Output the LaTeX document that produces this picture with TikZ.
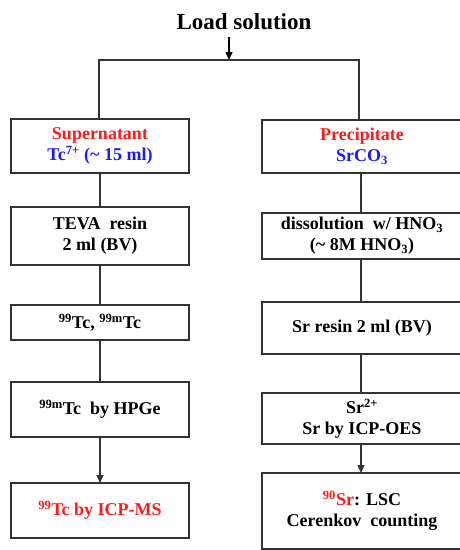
\documentclass[tikz,border=0pt]{standalone}
\usepackage{fontspec}
\setmainfont{Liberation Serif}
\usetikzlibrary{arrows.meta, positioning}
\definecolor{hot}{HTML}{FF1A1A}
\definecolor{ion}{HTML}{1A1AFF}
\definecolor{edge}{HTML}{333333}

\begin{document}
\begin{tikzpicture}[x=1pt, y=-1pt, font=\fontsize{18}{21}\selectfont\bfseries,
    >={Triangle[length=8pt, width=7pt]},
    box/.style={draw=edge, line width=1.4pt, align=center, inner sep=0pt, outer sep=0pt},
    lb/.style={box, minimum width=178pt},
    rb/.style={box, minimum width=200pt},
    link/.style={edge, line width=1.4pt}]
  \useasboundingbox (0,0) rectangle (459,550);

  \node (title) at (244,22) {\fontsize{23}{26}\selectfont Load solution};
  \coordinate (ld) at (229,37);
  \coordinate (split) at (229,60);

  % supernatant branch
  \node[lb, minimum height=54pt] (s1) at (100,146)
    {\color{hot}Supernatant\\\color{ion}Tc\textsuperscript{7+} (\textasciitilde\ 15 ml)};
  \node[lb, minimum height=58pt, below=34pt of s1] (s2) {TEVA\ \ resin\\2 ml (BV)};
  \node[lb, minimum height=35pt, below=40pt of s2] (s3) {\textsuperscript{99}Tc, \textsuperscript{99m}Tc};
  \node[lb, minimum height=55pt, below=42pt of s3] (s4) {\textsuperscript{99m}Tc\ \ by HPGe};
  \node[lb, minimum height=55pt, below=46pt of s4, text=hot] (s5) {\textsuperscript{99}Tc by ICP-MS};

  % precipitate branch
  \node[rb, minimum height=53pt] (p1) at (362,146.5)
    {\color{hot}Precipitate\\\color{ion}SrCO\textsubscript{3}};
  \node[rb, minimum height=46pt, below=40pt of p1] (p2)
    {dissolution\ \ w/ HNO\textsubscript{3}\\(\textasciitilde\ 8M HNO\textsubscript{3})};
  \node[rb, minimum height=52pt, below=43pt of p2] (p3) {Sr resin 2 ml (BV)};
  \node[rb, minimum height=51pt, below=39pt of p3] (p4) {Sr\textsuperscript{2+}\\Sr by ICP-OES};
  \node[rb, minimum height=76pt, below=29pt of p4] (p5)
    {{\color{hot}\textsuperscript{90}Sr}: LSC\\Cerenkov\ \ counting};

  \draw[->, line width=1.2pt] (ld) -- (split);
  \draw[link] ([xshift=-1pt]s1.north) -- ([xshift=-1pt]s1.north |- split)
    -- ([xshift=-3pt]p1.north |- split) -- ([xshift=-3pt]p1.north);

  \draw[link] (s1) -- (s2);
  \draw[link] (s2) -- (s3);
  \draw[link] (s3) -- (s4);
  \draw[link, ->] (s4) -- (s5);

  \draw[link] ([xshift=-1pt]p1.south) -- ([xshift=-1pt]p2.north);
  \draw[link] ([xshift=-1pt]p2.south) -- ([xshift=-1pt]p3.north);
  \draw[link] ([xshift=-1pt]p3.south) -- ([xshift=-1pt]p4.north);
  \draw[link, ->] ([xshift=-1pt]p4.south) -- ([xshift=-1pt]p5.north);
\end{tikzpicture}
\end{document}
